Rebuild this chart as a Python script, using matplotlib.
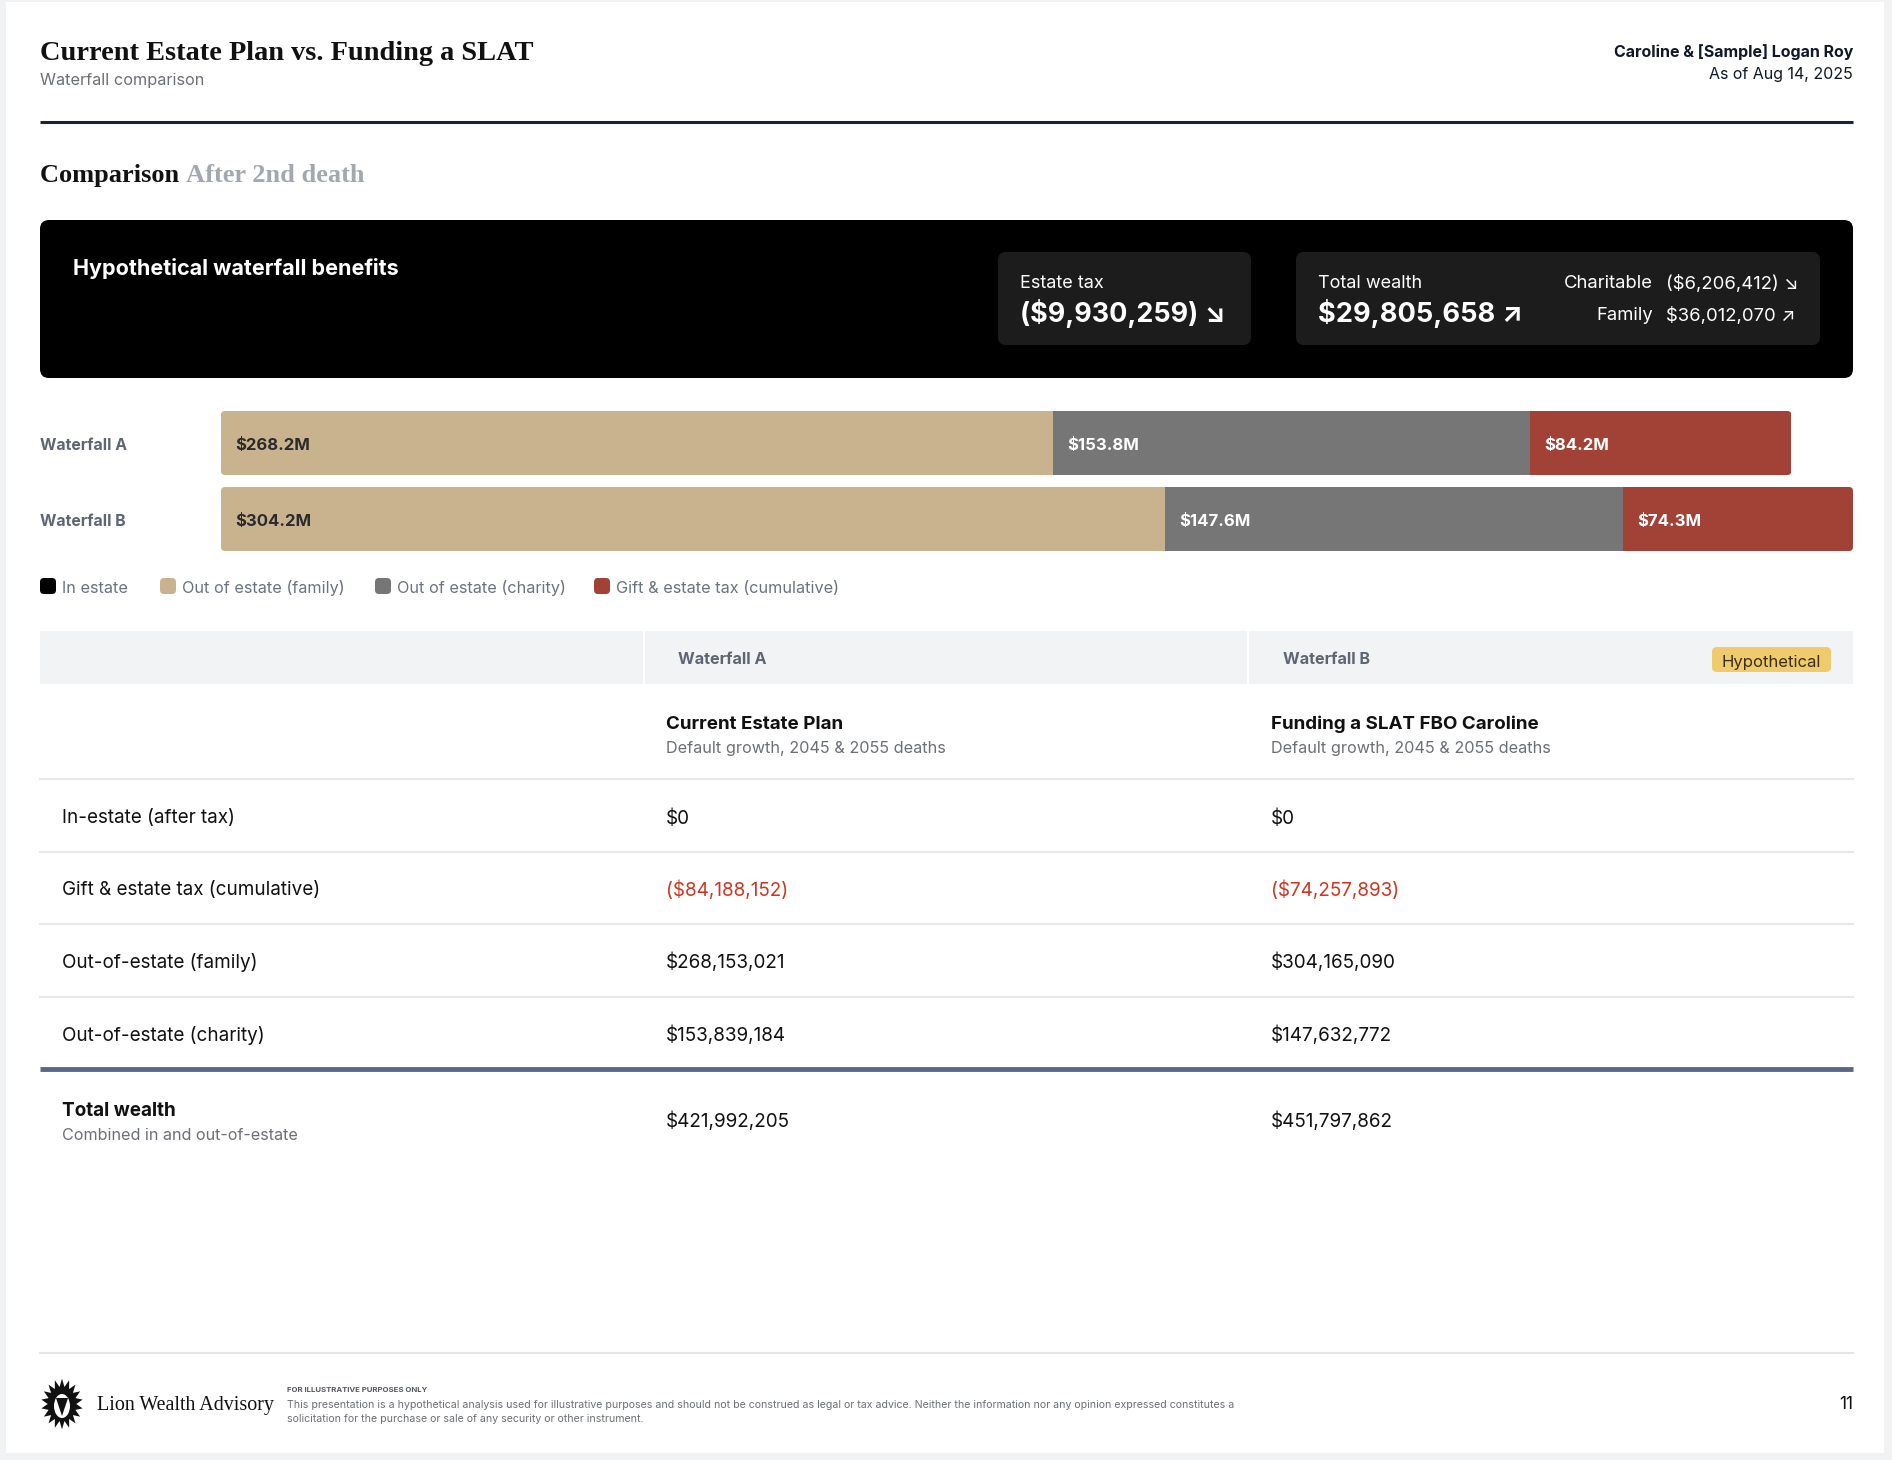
import numpy as np
import matplotlib
matplotlib.use("Agg")
import matplotlib.pyplot as plt
from matplotlib.patches import FancyBboxPatch, Rectangle, Polygon, Ellipse

W, H = 1892, 1460
SANS = ["Inter", "DejaVu Sans"]
SERIF = ["Liberation Serif", "DejaVu Serif"]
DY = 2.5  # va=center sits a bit high, nudge text down

# ---- data ----
waterfalls = ["Waterfall A", "Waterfall B"]
plan_names = ["Current Estate Plan", "Funding a SLAT FBO Caroline"]
plan_notes = ["Default growth, 2045 & 2055 deaths", "Default growth, 2045 & 2055 deaths"]
in_estate = [0, 0]
gift_tax = [-84188152, -74257893]
out_family = [268153021, 304165090]
out_charity = [153839184, 147632772]
total_wealth = [421992205, 451797862]
row_labels = ["In-estate (after tax)", "Gift & estate tax (cumulative)",
              "Out-of-estate (family)", "Out-of-estate (charity)"]
legend_labels = ["In estate", "Out of estate (family)", "Out of estate (charity)",
                 "Gift & estate tax (cumulative)"]
estate_tax_diff = -9930259
total_diff = 29805658
charitable_diff = -6206412
family_diff = 36012070

C_TAN = "#c9b38f"
C_GRAY = "#767676"
C_RED = "#a24236"
legend_colors = ["#000000", C_TAN, C_GRAY, C_RED]


def money(v):
    if v < 0:
        return "(${:,.0f})".format(-v)
    return "${:,.0f}".format(v)


def txt(x, y, s, **kw):
    kw.setdefault("va", "center")
    kw.setdefault("family", SANS)
    return ax.text(x, y + DY, s, **kw)


fig = plt.figure(figsize=(W / 100, H / 100), dpi=100)
fig.patch.set_facecolor("#f1f2f4")
ax = fig.add_axes([0, 0, 1, 1])
ax.set_xlim(0, W)
ax.set_ylim(H, 0)
ax.axis("off")

# page
ax.add_patch(Rectangle((6, 2), 1878, 1451, facecolor="white", edgecolor="none"))

# header
txt(40, 51, "Current Estate Plan vs. Funding a SLAT", family=SERIF, fontsize=20.4,
    fontweight="bold", color="#111111")
txt(40, 78, "Waterfall comparison", fontsize=11.7, color="#6b6f76")
txt(1853, 50, "Caroline & [Sample] Logan Roy", fontsize=11.5,
    fontweight="bold", color="#111827", ha="right")
txt(1853, 72, "As of Aug 14, 2025", fontsize=11.5, color="#111827", ha="right")
ax.plot([40, 1853], [122, 122], color="#1b2230", lw=2.2, solid_capstyle="butt")

t = txt(40, 173, "Comparison ", family=SERIF, fontsize=19, fontweight="bold", color="#111111")
fig.canvas.draw()
bb = t.get_window_extent()
txt(40 + bb.width, 173, "After 2nd death", family=SERIF, fontsize=19, fontweight="bold",
    color="#a3a7b0")

# black summary box
ax.add_patch(FancyBboxPatch((40, 220), 1813, 158, boxstyle="round,pad=0,rounding_size=9",
                            facecolor="#000000", edgecolor="none"))
txt(73, 266, "Hypothetical waterfall benefits", fontsize=15.5, fontweight="bold", color="white")
ax.add_patch(FancyBboxPatch((998, 252), 253, 93, boxstyle="round,pad=0,rounding_size=8",
                            facecolor="#1c1c1c", edgecolor="none"))
ax.add_patch(FancyBboxPatch((1296, 252), 524, 93, boxstyle="round,pad=0,rounding_size=8",
                            facecolor="#1c1c1c", edgecolor="none"))
txt(1020, 281.5, "Estate tax", fontsize=13, color="white")
txt(1020, 311.5, money(estate_tax_diff) + " \u2198", fontsize=19.4, fontweight="bold", color="white")
txt(1318, 281.5, "Total wealth", fontsize=13, color="white")
txt(1318, 311.5, money(total_diff) + " \u2197", fontsize=19.6, fontweight="bold", color="white")
txt(1653, 281.5, "Charitable", fontsize=13.3, color="white", ha="right")
txt(1666, 281.5, money(charitable_diff) + " \u2198", fontsize=13.3, color="white")
txt(1653, 313.5, "Family", fontsize=13.3, color="white", ha="right")
txt(1666, 313.5, money(family_diff) + " \u2197", fontsize=13.3, color="white")

# ---- stacked bars ----
fam_m = np.array(out_family) / 1e6
cha_m = np.array(out_charity) / 1e6
tax_m = -np.array(gift_tax) / 1e6
totals = fam_m + cha_m + tax_m

bx = fig.add_axes([221 / W, 1 - 551 / H, (1853 - 221) / W, (551 - 411) / H])
bx.set_xlim(0, totals.max())
bx.set_ylim(1.421, -0.421)
bx.axis("off")
ypos = np.arange(len(waterfalls))
bar_h = 0.842

# rounded outline per row, used to clip the segments
px_per_x = (1853 - 221) / totals.max()
px_per_y = 76.0
rs = 4.0 / px_per_x
clips = []
for i in range(len(waterfalls)):
    cp = FancyBboxPatch((0, ypos[i] - bar_h / 2), totals[i], bar_h,
                        boxstyle="round,pad=0,rounding_size={}".format(rs),
                        mutation_aspect=(4.0 / px_per_y) / rs,
                        facecolor="none", edgecolor="none", transform=bx.transData)
    bx.add_patch(cp)
    clips.append(cp)

segs = [(fam_m, C_TAN, "#2b2b2b"), (cha_m, C_GRAY, "white"), (tax_m, C_RED, "white")]
left = np.zeros(len(waterfalls))
for vals, col, tcol in segs:
    bars = bx.barh(ypos, vals, left=left, height=bar_h, color=col, edgecolor="none")
    for i, b in enumerate(bars):
        b.set_clip_path(clips[i])
    for i, v in enumerate(vals):
        bx.annotate("${:.1f}M".format(v), xy=(left[i], ypos[i]), xytext=(10.5, -1.8),
                    textcoords="offset points", va="center", ha="left", family=SANS,
                    fontsize=12, fontweight="bold", color=tcol)
    left = left + vals

bar_y = [443, 519]
for name, y in zip(waterfalls, bar_y):
    txt(40, y, name, fontsize=11.4, fontweight="bold", color="#5f6673")

# legend
lx = [40, 160, 375, 594]
for x, lab, col in zip(lx, legend_labels, legend_colors):
    ax.add_patch(FancyBboxPatch((x, 578), 16, 16, boxstyle="round,pad=0,rounding_size=4",
                                facecolor=col, edgecolor="none"))
    txt(x + 22, 586, lab, fontsize=11.7, color="#6b7280")

# ---- table ----
col_x = [666, 1271]
ax.add_patch(Rectangle((40, 631), 1813, 53, facecolor="#f2f3f5", edgecolor="none"))
for x in [644, 1248]:
    ax.plot([x, x], [631, 684], color="white", lw=1.5)
txt(678, 657, waterfalls[0], fontsize=11.6, fontweight="bold", color="#5f6673")
txt(1283, 657, waterfalls[1], fontsize=11.6, fontweight="bold", color="#5f6673")
ax.add_patch(FancyBboxPatch((1712, 647), 119, 25, boxstyle="round,pad=0,rounding_size=5",
                            facecolor="#efcb6d", edgecolor="none"))
txt(1771, 659.5, "Hypothetical", fontsize=12, color="#3a2f10", ha="center")

for x, nm, note in zip(col_x, plan_names, plan_notes):
    txt(x, 722, nm, fontsize=13.5, fontweight="bold", color="#111111")
    txt(x, 746, note, fontsize=11.7, color="#6b6f76")
ax.plot([40, 1853], [779, 779], color="#e5e7eb", lw=1.5)

rows = [in_estate, gift_tax, out_family, out_charity]
row_y = [816, 888, 960, 1033]
for lab, vals, y in zip(row_labels, rows, row_y):
    txt(62, y, lab, fontsize=13.6, color="#111111")
    for x, v in zip(col_x, vals):
        txt(x, y, money(v), fontsize=13.6, color="#d0361f" if v < 0 else "#111111")
for y in [852, 924, 997]:
    ax.plot([40, 1853], [y, y], color="#e5e7eb", lw=1.5)
ax.plot([40, 1853], [1069, 1069], color="#5b6788", lw=3.5, solid_capstyle="butt")

txt(62, 1108, "Total wealth", fontsize=13.6, fontweight="bold", color="#111111")
txt(62, 1133, "Combined in and out-of-estate", fontsize=11.6, color="#6b6f76")
for x, v in zip(col_x, total_wealth):
    txt(x, 1119, money(v), fontsize=13.6, color="#111111")

# ---- footer ----
ax.plot([40, 1853], [1353, 1353], color="#e5e7eb", lw=1.5)
ang = np.linspace(0, 2 * np.pi, 37)[:-1]
rad = np.where(np.arange(36) % 2 == 0, 22, 15)
mane = np.column_stack([62 + rad * np.sin(ang) * 0.95, 1404 - rad * np.cos(ang) * 1.15])
ax.add_patch(Polygon(mane, closed=True, facecolor="#111111", edgecolor="none"))
ax.add_patch(Ellipse((62, 1406), 16, 24, facecolor="white", edgecolor="none"))
ax.add_patch(Polygon([[56, 1398], [68, 1398], [62, 1416]], closed=True, facecolor="#111111"))
txt(97, 1403, "Lion Wealth Advisory", family=SERIF, fontsize=14.4, color="#111111")
txt(287, 1388, "FOR ILLUSTRATIVE PURPOSES ONLY", fontsize=5.6, fontweight="bold", color="#555a61")
txt(287, 1402, "This presentation is a hypothetical analysis used for illustrative purposes and should "
    "not be construed as legal or tax advice. Neither the information nor any opinion expressed "
    "constitutes a", fontsize=7.6, color="#6b6f76")
txt(287, 1416, "solicitation for the purchase or sale of any security or other instrument.",
    fontsize=7.6, color="#6b6f76")
txt(1853, 1402, "11", fontsize=12.5, color="#111111", ha="right")

fig.savefig("out.png", dpi=100, facecolor=fig.get_facecolor())
